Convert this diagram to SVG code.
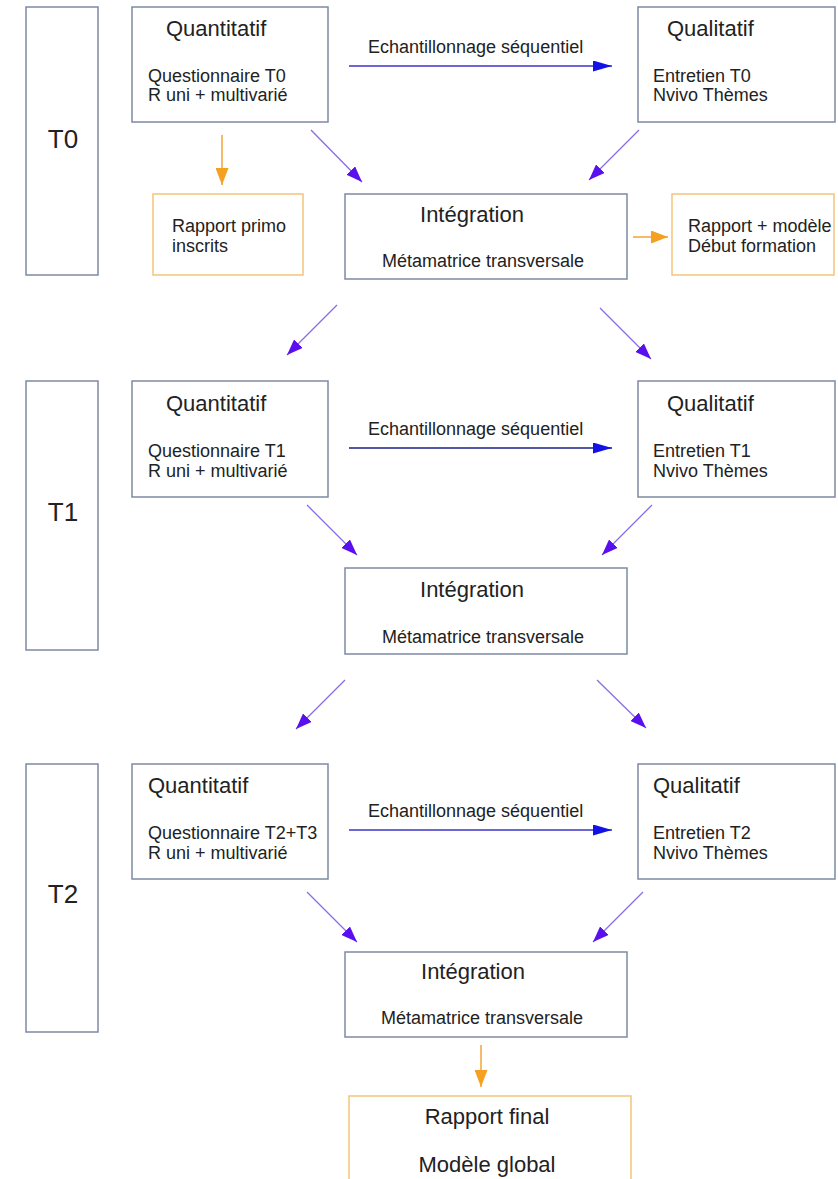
<svg xmlns="http://www.w3.org/2000/svg" width="838" height="1179" viewBox="0 0 838 1179">
<style>
.box{fill:#fff;stroke:#7d8aa3;stroke-width:1.5}
.obox{fill:#fff;stroke:#f2c57a;stroke-width:1.5}
.h{font-family:"Liberation Sans",Arial,sans-serif;font-size:22px;fill:#222}
.b{font-family:"Liberation Sans",Arial,sans-serif;font-size:18px;fill:#222}
.t{font-family:"Liberation Sans",Arial,sans-serif;font-size:26px;fill:#222}
.c{text-anchor:middle}
.pa{stroke:#8a6ce6;stroke-width:1.3;fill:none;marker-end:url(#hp)}
.ba{stroke:#3a36c8;stroke-width:1.3;fill:none;marker-end:url(#hb)}
.oa{stroke:#f2a43a;stroke-width:1.5;fill:none;marker-end:url(#ho)}
</style>
<defs>
<marker id="hp" viewBox="0 0 16 12" refX="16" refY="6" markerWidth="16" markerHeight="12" markerUnits="userSpaceOnUse" orient="auto"><path d="M0,0 L16,6 L0,12 z" fill="#5a10ee"/></marker>
<marker id="hb" viewBox="0 0 19 11" refX="19" refY="5.5" markerWidth="19" markerHeight="11" markerUnits="userSpaceOnUse" orient="auto"><path d="M0,0 L19,5.5 L0,11 z" fill="#1212e6"/></marker>
<marker id="ho" viewBox="0 0 17 13" refX="17" refY="6.5" markerWidth="17" markerHeight="13" markerUnits="userSpaceOnUse" orient="auto"><path d="M0,0 L17,6.5 L0,13 z" fill="#f5a020"/></marker>
</defs>
<rect width="838" height="1179" fill="#fff"/>

<g id="connectors">
<line class="ba" x1="349" y1="66" x2="612" y2="66"/>
<line class="oa" x1="222" y1="135" x2="222" y2="185"/>
<line class="pa" x1="311" y1="130" x2="362" y2="182"/>
<line class="pa" x1="639" y1="130" x2="589" y2="180"/>
<line class="oa" x1="633" y1="237" x2="668" y2="237"/>
<line class="pa" x1="337" y1="305" x2="287" y2="355"/>
<line class="pa" x1="600" y1="308" x2="651" y2="359"/>
<line class="ba" x1="349" y1="448" x2="612" y2="448" style="stroke:#1e1e8a"/>
<line class="pa" x1="307" y1="505" x2="357" y2="555"/>
<line class="pa" x1="652" y1="505" x2="602" y2="555"/>
<line class="pa" x1="345" y1="680" x2="296" y2="729"/>
<line class="pa" x1="597" y1="680" x2="646" y2="728"/>
<line class="ba" x1="349" y1="830" x2="612" y2="830"/>
<line class="pa" x1="307" y1="892" x2="357" y2="942"/>
<line class="pa" x1="643" y1="892" x2="593" y2="942"/>
<line class="oa" x1="481" y1="1045" x2="481" y2="1087"/>
<text class="b" x="368" y="53">Echantillonnage séquentiel</text>
<text class="b" x="368" y="435">Echantillonnage séquentiel</text>
<text class="b" x="368" y="817">Echantillonnage séquentiel</text>
</g>

<g id="T0"><rect class="box" x="26" y="7" width="72" height="268"/><text class="t c" x="63" y="148">T0</text></g>
<g id="quant0"><rect class="box" x="132" y="7" width="196" height="115"/><text class="h" x="166" y="36">Quantitatif</text><text class="b" x="148" y="82">Questionnaire T0</text><text class="b" x="148" y="101">R uni + multivarié</text></g>
<g id="qual0"><rect class="box" x="638" y="7" width="197" height="115"/><text class="h" x="667" y="36">Qualitatif</text><text class="b" x="653" y="82">Entretien T0</text><text class="b" x="653" y="101">Nvivo Thèmes</text></g>
<g id="rapport-primo"><rect class="obox" x="153" y="194" width="150" height="81"/><text class="b" x="172" y="232">Rapport primo</text><text class="b" x="172" y="252">inscrits</text></g>
<g id="integ0"><rect class="box" x="345" y="194" width="282" height="85"/><text class="h c" x="472" y="222">Intégration</text><text class="b c" x="483" y="267">Métamatrice transversale</text></g>
<g id="rapport-modele"><rect class="obox" x="672" y="194" width="162" height="81"/><text class="b" x="688" y="232">Rapport + modèle</text><text class="b" x="688" y="252">Début formation</text></g>

<g id="T1"><rect class="box" x="26" y="381" width="72" height="269"/><text class="t c" x="63" y="521">T1</text></g>
<g id="quant1"><rect class="box" x="132" y="381" width="196" height="116"/><text class="h" x="166" y="411">Quantitatif</text><text class="b" x="148" y="457">Questionnaire T1</text><text class="b" x="148" y="477">R uni + multivarié</text></g>
<g id="qual1"><rect class="box" x="638" y="381" width="197" height="116"/><text class="h" x="667" y="411">Qualitatif</text><text class="b" x="653" y="457">Entretien T1</text><text class="b" x="653" y="477">Nvivo Thèmes</text></g>
<g id="integ1"><rect class="box" x="345" y="568" width="282" height="86"/><text class="h c" x="472" y="597">Intégration</text><text class="b c" x="483" y="643">Métamatrice transversale</text></g>

<g id="T2"><rect class="box" x="26" y="764" width="72" height="268"/><text class="t c" x="63" y="903">T2</text></g>
<g id="quant2"><rect class="box" x="132" y="764" width="196" height="115"/><text class="h" x="148" y="793">Quantitatif</text><text class="b" x="148" y="839">Questionnaire T2+T3</text><text class="b" x="148" y="859">R uni + multivarié</text></g>
<g id="qual2"><rect class="box" x="638" y="764" width="197" height="115"/><text class="h" x="653" y="793">Qualitatif</text><text class="b" x="653" y="839">Entretien T2</text><text class="b" x="653" y="859">Nvivo Thèmes</text></g>
<g id="integ2"><rect class="box" x="345" y="952" width="282" height="85"/><text class="h c" x="473" y="979">Intégration</text><text class="b c" x="482" y="1024">Métamatrice transversale</text></g>
<g id="rapport-final"><rect class="obox" x="349" y="1096" width="282" height="100"/><text class="h c" x="487" y="1124">Rapport final</text><text class="h c" x="487" y="1172">Modèle global</text></g>
</svg>
